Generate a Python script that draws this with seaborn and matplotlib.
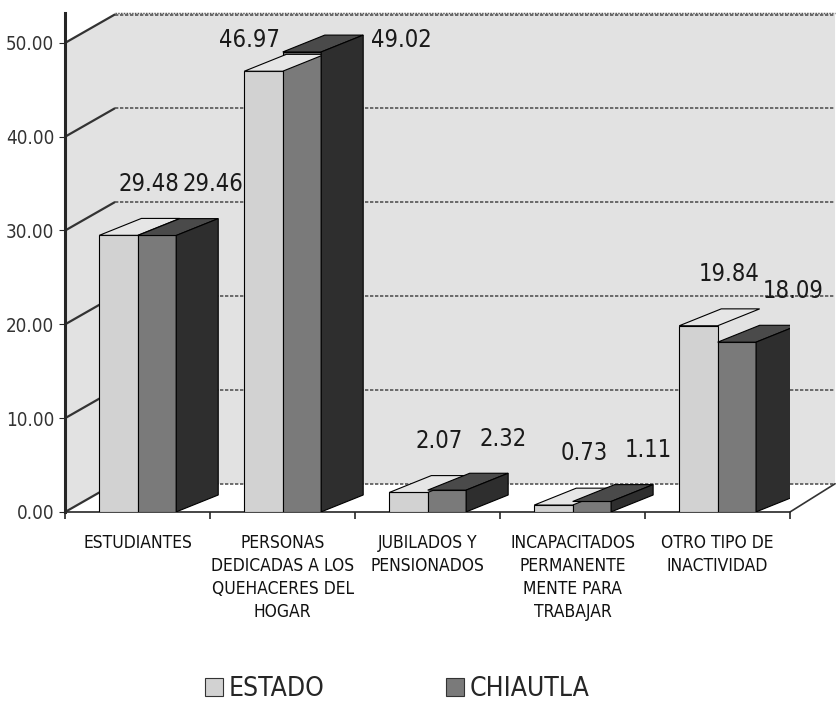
import matplotlib.pyplot as plt
from matplotlib import font_manager as fm
from matplotlib.patches import Polygon, Rectangle
import numpy as np
import pandas as pd
import seaborn as sns

categorias = ['ESTUDIANTES',
              'PERSONAS\nDEDICADAS A LOS\nQUEHACERES DEL\nHOGAR',
              'JUBILADOS Y\nPENSIONADOS',
              'INCAPACITADOS\nPERMANENTE\nMENTE PARA\nTRABAJAR',
              'OTRO TIPO DE\nINACTIVIDAD']
series = ['ESTADO', 'CHIAUTLA']
estado = [29.48, 46.97, 2.07, 0.73, 19.84]
chiautla = [29.46, 49.02, 2.32, 1.11, 18.09]
yticks = [0, 10, 20, 30, 40, 50]

sns.set_style('white')

# narrow face, the original uses an Arial Narrow like font
narrow = None
for f in fm.fontManager.ttflist:
    if f.fname.endswith('DejaVuSansCondensed.ttf'):
        narrow = f.fname
        break
if narrow is not None:
    fp = lambda size: fm.FontProperties(fname=narrow, size=size)
else:
    fp = lambda size: fm.FontProperties(family='DejaVu Sans', stretch='condensed', size=size)

df = pd.DataFrame({
    'cat': categorias * 2,
    'serie': [series[0]] * len(estado) + [series[1]] * len(chiautla),
    'valor': estado + chiautla,
})

front = {'ESTADO': '#d2d2d2', 'CHIAUTLA': '#7a7a7a'}
top = {'ESTADO': '#e6e6e6', 'CHIAUTLA': '#4a4a4a'}
side = {'ESTADO': '#b0b0b0', 'CHIAUTLA': '#2e2e2e'}

fig = plt.figure(figsize=(8.37, 7.09), dpi=100)
ax = fig.add_axes([0.078, 0.278, 0.866, 0.704])
ax.set_facecolor('none')

sns.barplot(data=df, x='cat', y='valor', hue='serie', palette=front,
            width=0.53, edgecolor='black', linewidth=0.8, ax=ax, legend=False,
            zorder=3)
bars = [p for p in ax.patches if isinstance(p, Rectangle) and p.get_height() > 0]

ax.set_xlim(-0.5, 4.5)
ax.set_ylim(0, 53.2)

# back wall with 3D offset
wx, wy = 0.34, 3.0
xr = 4.81
ax.add_patch(Polygon([(-0.5, 0), (-0.5, 50), (-0.5 + wx, 50 + wy), (-0.5 + wx, 53.2), (xr, 53.2), (xr, wy), (-0.5 + wx, wy)],
                     closed=True, fc='#e2e2e2', ec='none', zorder=0, clip_on=False))
ax.plot([-0.5 + wx, xr], [53.2, 53.2], color='#555555', lw=1, ls=(0, (1, 1)), zorder=1, clip_on=False)
for t in yticks:
    ax.plot([-0.5, -0.5 + wx], [t, t + wy], color='#333333', lw=1.6, zorder=1)
    ax.plot([-0.5 + wx, xr], [t + wy, t + wy], color='#555555', lw=1.2, ls=(0, (2, 1)),
            zorder=1, clip_on=False)
ax.plot([4.5, xr], [0, wy], color='#333333', lw=1.2, zorder=1, clip_on=False)

# pseudo 3D faces built from the bar patches
dx, dy = 0.29, 1.8
n = len(estado)
for i, p in enumerate(bars):
    s = series[i // n]
    x0, w, h = p.get_x(), p.get_width(), p.get_height()
    ax.add_patch(Polygon([(x0, h), (x0 + dx, h + dy), (x0 + w + dx, h + dy), (x0 + w, h)],
                         closed=True, fc=top[s], ec='black', lw=0.8, zorder=3))
    if s == 'CHIAUTLA':
        ax.add_patch(Polygon([(x0 + w, 0), (x0 + w + dx, dy), (x0 + w + dx, h + dy), (x0 + w, h)],
                             closed=True, fc=side[s], ec='black', lw=0.8, zorder=3))
    cx = i % n
    if h + dy > 45:
        tx = cx - 0.23 if s == 'ESTADO' else cx + 0.82
        ty = min(h + 4.0, 50.3)
    else:
        tx = cx + 0.08 if s == 'ESTADO' else cx + 0.52
        ty = h + 5.5
    ax.text(tx, ty, f'{h:.2f}', ha='center', va='center', fontproperties=fp(17),
            color='#1a1a1a', zorder=4)

ax.set_yticks(yticks)
ax.set_yticklabels([f'{t:.2f}' for t in yticks])
for lab in ax.get_yticklabels():
    lab.set_fontproperties(fp(13.5))
    lab.set_color('#333333')
ax.set_xticks(range(len(categorias)))
ax.set_xticklabels(categorias, linespacing=1.35, va='top')
for lab in ax.get_xticklabels():
    lab.set_fontproperties(fp(12.5))
    lab.set_color('#111111')
ax.set_xticks(np.arange(-0.5, 4.6, 1), minor=True)
ax.tick_params(axis='x', which='major', length=0, pad=16)
ax.tick_params(axis='x', which='minor', length=5, width=1.2, direction='out', bottom=True)
ax.tick_params(axis='y', length=4, direction='out', left=True, pad=4)
ax.set_xlabel('')
ax.set_ylabel('')
for sp in ['top', 'right']:
    ax.spines[sp].set_visible(False)
ax.spines['left'].set_linewidth(2.2)
ax.spines['bottom'].set_linewidth(1.2)
ax.spines['bottom'].set_linestyle((0, (1, 1)))

handles = [plt.Rectangle((0, 0), 1, 1, fc=front[s], ec='#333333', lw=0.8) for s in series]
fig.legend(handles, series, loc='lower left', bbox_to_anchor=(0.216, -0.024), ncol=2,
           frameon=False, prop=fp(19), handlelength=0.7, handleheight=0.7,
           handletextpad=0.2, columnspacing=4.6)

fig.savefig('out.png', dpi=100)
